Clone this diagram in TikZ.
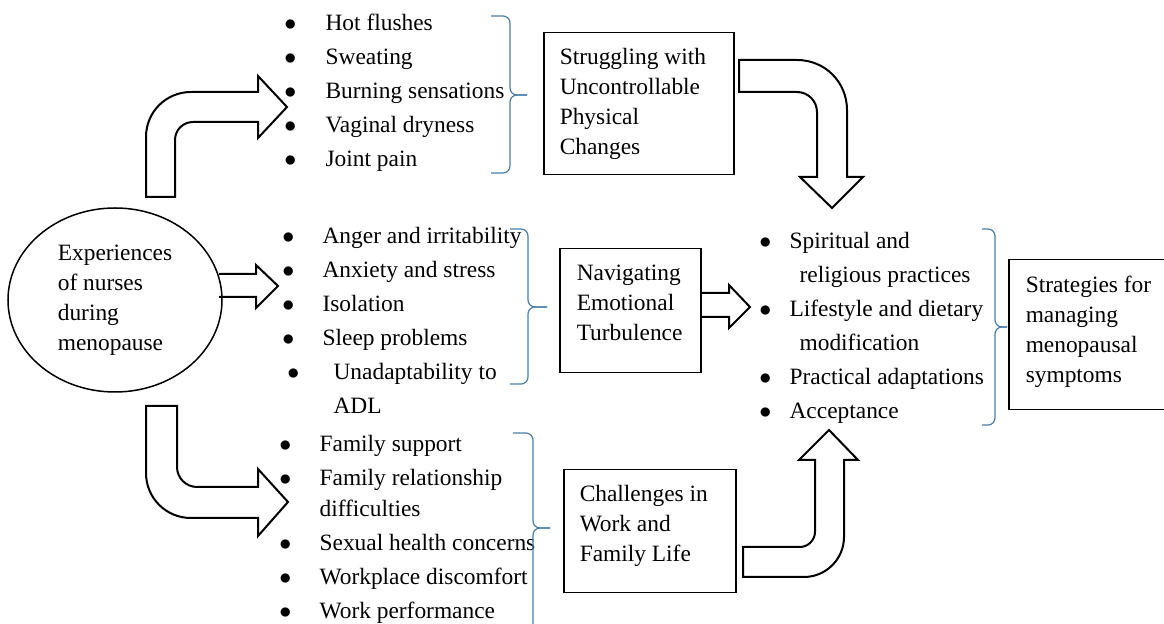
\documentclass[tikz,border=0pt]{standalone}
\usepackage{fontspec}
\setmainfont{Liberation Serif}
\usetikzlibrary{shapes.geometric}
\definecolor{bracecol}{RGB}{74,126,167}

\tikzset{
  fatarrow/.style={draw, line width=1pt, line join=miter},
  topicbox/.style={draw, line width=0.75pt, anchor=north west, inner ysep=8pt, font=\fontsize{11.7}{15}\selectfont},
  itemlist/.style={anchor=north west, inner sep=0pt},
  bracket/.style={draw=bracecol, line width=0.6pt, rounded corners=3.5pt},
}

\begin{document}
\begin{tikzpicture}[x=0.5pt, y=-0.5pt, every node/.style={font=\fontsize{11.7}{17}\selectfont}]
\useasboundingbox (0,0) rectangle (1164,624);
\clip (0,0) rectangle (1164,624);

\node[draw, ellipse, line width=0.75pt, minimum width=107pt, minimum height=92pt, inner sep=0pt, align=left, font=\fontsize{11.7}{15}\selectfont] (exp) at (115,300) {Experiences\\of nurses\\during\\menopause};

\node[itemlist] (physlist) at (284,6) {\begin{tabular}{@{}l@{\hspace{14.6pt}}l@{}}
$\bullet$ & Hot flushes\\
$\bullet$ & Sweating\\
$\bullet$ & Burning sensations\\
$\bullet$ & Vaginal dryness\\
$\bullet$ & Joint pain
\end{tabular}};
\node[itemlist] (emolist) at (282,219) {\begin{tabular}{@{}l@{\hspace{14.1pt}}l@{}}
$\bullet$ & Anger and irritability\\
$\bullet$ & Anxiety and stress\\
$\bullet$ & Isolation\\
$\bullet$ & Sleep problems\\
\hspace{2.5pt}$\bullet$\hspace{-2.5pt} & \hspace{5.5pt}Unadaptability to\\
 & \hspace{5.5pt}ADL
\end{tabular}};
\node[itemlist] (worklist) at (279,427) {\begin{tabular}{@{}l@{\hspace{14.1pt}}l@{}}
$\bullet$ & Family support\\
$\bullet$ & Family relationship\\[-1.5pt]
 & difficulties\\
$\bullet$ & Sexual health concerns\\
$\bullet$ & Workplace discomfort\\
$\bullet$ & Work performance
\end{tabular}};
\node[itemlist] (stratlist) at (759,224) {\begin{tabular}{@{}l@{\hspace{9.1pt}}l@{}}
$\bullet$ & Spiritual and\\
 & \hspace{5pt}religious practices\\
$\bullet$ & Lifestyle and dietary\\
 & \hspace{5pt}modification\\
$\bullet$ & Practical adaptations\\
$\bullet$ & Acceptance
\end{tabular}};

\node[topicbox, inner xsep=8pt] (physical) at (543,32) {\parbox[t][55pt][t]{79pt}{\raggedright Struggling with\\Uncontrollable\\Physical\\Changes}};
\node[topicbox, inner xsep=8.5pt] (emotional) at (559,248) {\parbox[t][46pt][t]{53.5pt}{\raggedright Navigating\\Emotional\\Turbulence}};
\node[topicbox, inner xsep=8pt] (worklife) at (563,469) {\parbox[t][45.5pt][t]{70pt}{\raggedright Challenges in\\Work and\\Family Life}};
\node[topicbox, inner xsep=8.5pt] (strategies) at (1008,259) {\parbox[t][59pt][t]{75pt}{\raggedright Strategies for\\managing\\menopausal\\symptoms}};

% braces: x, top, middle, bottom, hook, tip
\foreach \x/\t/\m/\b/\h/\p in {491/16/95/173/19/17, 510/229/307/384/18/19, 513/433/528/640/20/17, 982/229/327/425/13/12}{
  \draw[bracket] (\x,\t) -- ({\x+\h},\t) -- ({\x+\h},\m) -- ({\x+\h+\p},\m);
  \draw[bracket] ({\x+\h+\p},\m) -- ({\x+\h},\m) -- ({\x+\h},\b) -- (\x,\b);
}

\draw[fatarrow] (146,197) -- (146,137) .. controls (146,112) and (166,92) .. (191,92) -- (258,92) -- (258,76) -- (287,107) -- (258,138) -- (258,122) -- (193,122) .. controls (183,122) and (175,130) .. (175,140) -- (175,197) -- cycle;
\draw[fatarrow] (219,274) -- (256,274) -- (256,265) -- (278,286) -- (256,308) -- (256,297) -- (219,297);
\draw[fatarrow] (146,406) -- (146,473) .. controls (146,498) and (166,518) .. (191,518) -- (258,518) -- (258,536) -- (288,502) -- (258,469) -- (258,487) -- (197,487) .. controls (186,487) and (177,478) .. (177,467) -- (177,406) -- cycle;
\draw[fatarrow] (739,60) -- (797,60) .. controls (825,60) and (847,82) .. (847,110) -- (847,177) -- (863,177) -- (832,208) -- (800,177) -- (817,177) -- (817,112) .. controls (817,101) and (808,92) .. (797,92) -- (739,92) -- cycle;
\draw[fatarrow] (700,293) -- (729,293) -- (729,285) -- (750,307) -- (729,328) -- (729,317) -- (700,317);
\draw[fatarrow] (743,547) -- (800,547) .. controls (808,547) and (815,540) .. (815,532) -- (815,460) -- (799,460) -- (829,430) -- (858,460) -- (844,460) -- (844,537) .. controls (844,559) and (826,577) .. (804,577) -- (743,577) -- cycle;
\end{tikzpicture}
\end{document}
